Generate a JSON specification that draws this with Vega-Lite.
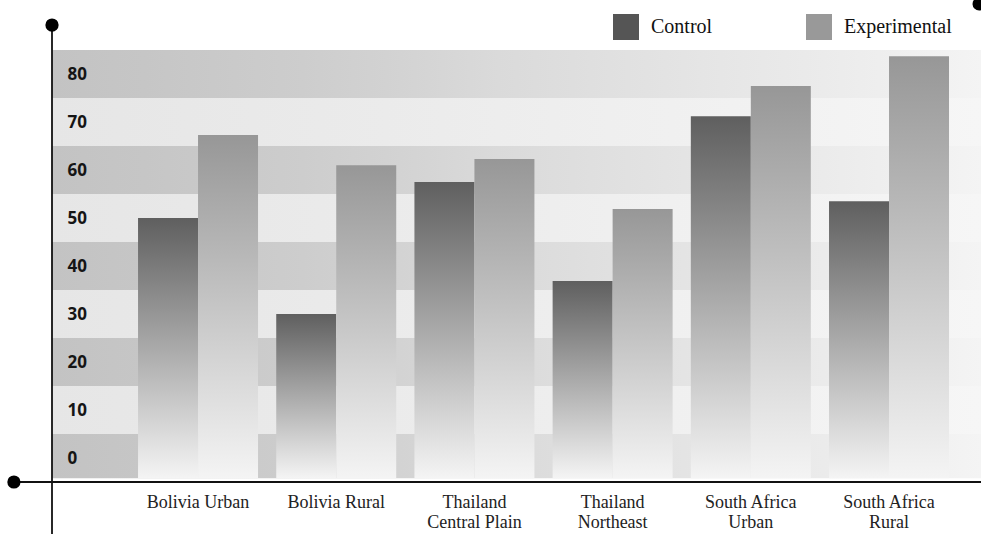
{
  "$schema": "https://vega.github.io/schema/vega-lite/v6.json",
  "width": 929,
  "height": 432,
  "autosize": {"type": "none"},
  "padding": {"left": 52, "top": 50, "right": 0, "bottom": 52},
  "background": "white",
  "config": {"view": {"stroke": null}},
  "datasets": {
    "results": [
      {"region": "Bolivia Urban", "group": "Control", "value": 50},
      {"region": "Bolivia Urban", "group": "Experimental", "value": 67.3},
      {"region": "Bolivia Rural", "group": "Control", "value": 30},
      {"region": "Bolivia Rural", "group": "Experimental", "value": 61},
      {"region": "Thailand\nCentral Plain", "group": "Control", "value": 57.5},
      {"region": "Thailand\nCentral Plain", "group": "Experimental", "value": 62.3},
      {"region": "Thailand\nNortheast", "group": "Control", "value": 36.9},
      {"region": "Thailand\nNortheast", "group": "Experimental", "value": 51.9},
      {"region": "South Africa\nUrban", "group": "Control", "value": 71.2},
      {"region": "South Africa\nUrban", "group": "Experimental", "value": 77.5},
      {"region": "South Africa\nRural", "group": "Control", "value": 53.5},
      {"region": "South Africa\nRural", "group": "Experimental", "value": 83.7}
    ],
    "stripes": [
      {"tick": 80, "lo": 75, "hi": 85, "tone": "dark"},
      {"tick": 70, "lo": 65, "hi": 75, "tone": "light"},
      {"tick": 60, "lo": 55, "hi": 65, "tone": "dark"},
      {"tick": 50, "lo": 45, "hi": 55, "tone": "light"},
      {"tick": 40, "lo": 35, "hi": 45, "tone": "dark"},
      {"tick": 30, "lo": 25, "hi": 35, "tone": "light"},
      {"tick": 20, "lo": 15, "hi": 25, "tone": "dark"},
      {"tick": 10, "lo": 5, "hi": 15, "tone": "light"},
      {"tick": 0, "lo": -4.2, "hi": 5, "tone": "dark"}
    ],
    "frame": [{"part": "axes"}]
  },
  "resolve": {"scale": {"x": "independent"}},
  "layer": [
    {
      "data": {"name": "stripes"},
      "transform": [{"filter": "datum.tone == 'dark'"}],
      "mark": {
        "type": "rect",
        "fill": {
          "gradient": "linear", "x1": 0, "y1": 0, "x2": 1, "y2": 0,
          "stops": [
            {"offset": 0, "color": "#c3c3c3"},
            {"offset": 0.1, "color": "#c6c6c6"},
            {"offset": 0.27, "color": "#cdcdcd"},
            {"offset": 0.36, "color": "#d2d2d2"},
            {"offset": 0.48, "color": "#dadada"},
            {"offset": 0.6, "color": "#e0e0e0"},
            {"offset": 0.72, "color": "#e6e6e6"},
            {"offset": 0.81, "color": "#eaeaea"},
            {"offset": 0.89, "color": "#eeeeee"},
            {"offset": 1, "color": "#f4f4f4"}
          ]
        }
      },
      "encoding": {
        "y": {
          "field": "lo", "type": "quantitative",
          "scale": {"domain": [-5, 85], "nice": false, "zero": false},
          "axis": {
            "title": null,
            "values": [0, 10, 20, 30, 40, 50, 60, 70, 80],
            "domain": false, "ticks": false, "tickSize": 0, "grid": false,
            "labelAlign": "left", "labelPadding": -15, "zindex": 2,
            "labelFont": "Open Sans", "labelFontWeight": "bold",
            "labelFontSize": 17, "labelColor": "#151515"
          }
        },
        "y2": {"field": "hi"}
      }
    },
    {
      "data": {"name": "stripes"},
      "transform": [{"filter": "datum.tone == 'light'"}],
      "mark": {
        "type": "rect",
        "fill": {
          "gradient": "linear", "x1": 0, "y1": 0, "x2": 1, "y2": 0,
          "stops": [
            {"offset": 0, "color": "#e6e6e6"},
            {"offset": 0.36, "color": "#ebebeb"},
            {"offset": 0.6, "color": "#efefef"},
            {"offset": 0.8, "color": "#f2f2f2"},
            {"offset": 1, "color": "#f6f6f6"}
          ]
        }
      },
      "encoding": {
        "y": {"field": "lo", "type": "quantitative"},
        "y2": {"field": "hi"}
      }
    },
    {
      "data": {"name": "results"},
      "transform": [{"filter": "datum.group == 'Control'"}],
      "mark": {
        "type": "bar",
        "fill": {
          "gradient": "linear", "x1": 0, "y1": 0, "x2": 0, "y2": 1,
          "stops": [
            {"offset": 0, "color": "#5f5f5f"},
            {"offset": 1, "color": "#f4f4f4"}
          ]
        }
      },
      "encoding": {
        "x": {
          "field": "region", "type": "nominal", "sort": null,
          "scale": {"paddingInner": 0.1317, "paddingOuter": 0.427, "align": 0.729},
          "axis": {
            "title": null, "labelAngle": 0, "domain": false, "orient": "bottom",
            "ticks": false, "tickSize": 0, "labelPadding": 11, "zindex": 2,
            "labelExpr": "split(datum.value, '\\n')",
            "labelFont": "Liberation Serif", "labelFontSize": 18,
            "labelLineHeight": 20, "labelColor": "#222222"
          }
        },
        "xOffset": {
          "field": "group", "type": "nominal",
          "scale": {"domain": ["Control", "Experimental"], "paddingInner": 0, "paddingOuter": 0}
        },
        "y": {"field": "value", "type": "quantitative"},
        "y2": {"datum": -4.2}
      }
    },
    {
      "data": {"name": "results"},
      "transform": [{"filter": "datum.group == 'Experimental'"}],
      "mark": {
        "type": "bar",
        "fill": {
          "gradient": "linear", "x1": 0, "y1": 0, "x2": 0, "y2": 1,
          "stops": [
            {"offset": 0, "color": "#979797"},
            {"offset": 1, "color": "#f4f4f4"}
          ]
        }
      },
      "encoding": {
        "x": {
          "field": "region", "type": "nominal", "sort": null,
          "scale": {"domain": ["Bolivia Urban", "Bolivia Rural", "Thailand\nCentral Plain", "Thailand\nNortheast", "South Africa\nUrban", "South Africa\nRural"], "paddingInner": 0.1317, "paddingOuter": 0.427, "align": 0.729},
          "axis": null
        },
        "xOffset": {"field": "group", "type": "nominal"},
        "y": {"field": "value", "type": "quantitative"},
        "y2": {"datum": -4.2}
      }
    },
    {
      "data": {"name": "results"},
      "mark": {"type": "square", "opacity": 0},
      "encoding": {
        "y": {"field": "value", "type": "quantitative"},
        "color": {
          "field": "group", "type": "nominal",
          "scale": {"domain": ["Control", "Experimental"], "range": ["#555555", "#999999"]},
          "legend": {
            "title": null, "orient": "none", "legendX": 561, "legendY": -36,
            "direction": "horizontal", "columns": 2, "columnPadding": 93,
            "symbolType": "square", "symbolSize": 676, "symbolStrokeWidth": 0,
            "symbolOpacity": 1, "labelOffset": 12,
            "labelFont": "Liberation Serif", "labelFontSize": 20, "labelColor": "#111111"
          }
        }
      }
    },
    {
      "data": {"name": "frame"},
      "mark": {"type": "rule", "stroke": "#111111", "strokeWidth": 1.8},
      "encoding": {
        "x": {"datum": 0, "type": "quantitative", "scale": {"domain": [0, 1], "nice": false, "zero": false}, "axis": null},
        "y": {"datum": 90.2, "type": "quantitative"},
        "y2": {"datum": -16}
      }
    },
    {
      "data": {"name": "frame"},
      "mark": {"type": "rule", "stroke": "#111111", "strokeWidth": 1.8},
      "encoding": {
        "x": {"datum": -0.041, "type": "quantitative", "scale": {"domain": [0, 1], "nice": false, "zero": false}, "axis": null},
        "x2": {"datum": 1},
        "y": {"datum": -5, "type": "quantitative"}
      }
    },
    {
      "data": {"name": "frame"},
      "mark": {"type": "circle", "size": 175, "opacity": 1, "color": "#000000"},
      "encoding": {
        "x": {"datum": 0, "type": "quantitative", "scale": {"domain": [0, 1], "nice": false, "zero": false}, "axis": null},
        "y": {"datum": 90.2, "type": "quantitative"}
      }
    },
    {
      "data": {"name": "frame"},
      "mark": {"type": "circle", "size": 175, "opacity": 1, "color": "#000000"},
      "encoding": {
        "x": {"datum": -0.041, "type": "quantitative", "scale": {"domain": [0, 1], "nice": false, "zero": false}, "axis": null},
        "y": {"datum": -5, "type": "quantitative"}
      }
    },
    {
      "data": {"name": "frame"},
      "mark": {"type": "circle", "size": 175, "opacity": 1, "color": "#000000"},
      "encoding": {
        "x": {"datum": 0.998, "type": "quantitative", "scale": {"domain": [0, 1], "nice": false, "zero": false}, "axis": null},
        "y": {"datum": 94.6, "type": "quantitative"}
      }
    }
  ]
}
